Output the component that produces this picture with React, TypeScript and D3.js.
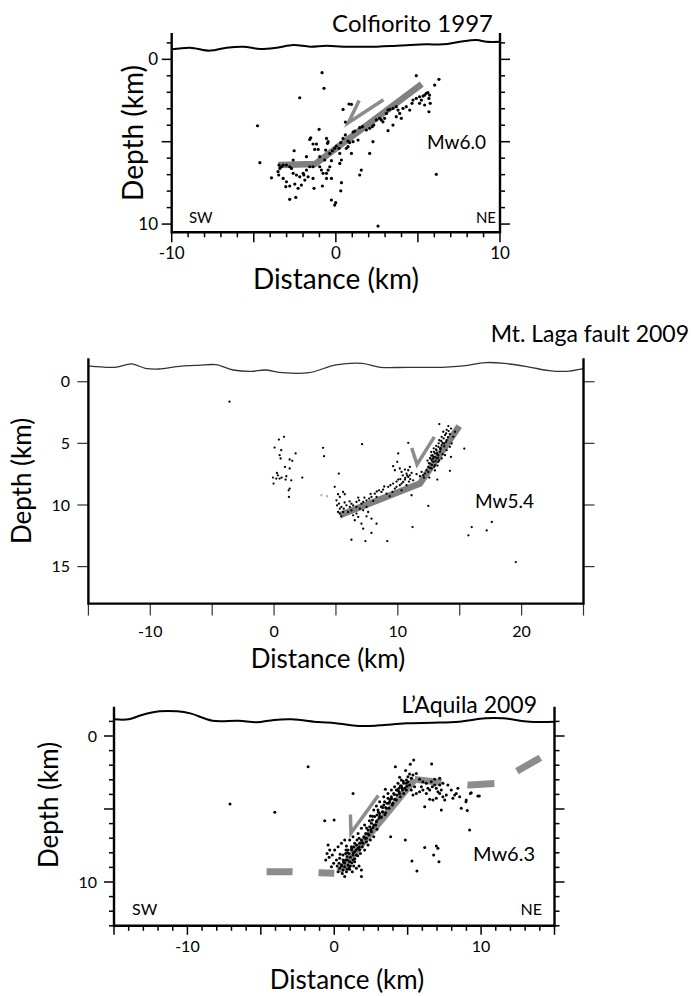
import React from "react";
import * as d3 from "d3";

type Pt = [number, number];

// ---------- Colfiorito 1997 ----------
const colfTitle = "Colfiorito 1997";
const colfMagnitude = "Mw6.0";
const colfDepthLabels = [0, 10];
const colfDistLabels = [-10, 0, 10];
const colfTopography: Pt[] = [
  [-10, -0.61], [-8.88, -0.71], [-7.66, -0.53], [-6.65, -0.71], [-5.63, -0.77], [-4.62, -0.63],
  [-3.6, -0.71], [-2.59, -0.87], [-1.57, -0.77], [-0.56, -0.83], [0.46, -0.77], [2.49, -0.77],
  [3.5, -0.81], [4.52, -0.87], [5.53, -0.91], [6.55, -0.91], [7.56, -1.07], [8.58, -1.17],
  [9.19, -1.07], [10, -1.07],
];
const colfFault: Pt[] = [[-3.5, 6.42], [-1.27, 6.36], [5.23, 1.5]];
const colfSlipArrow: Pt[] = [[1.42, 2.5], [0.76, 3.85], [2.9, 2.45]];
const colfQuakes: Pt[] = [
  [-0.84, 0.81], [-0.72, 1.76], [-2.2, 2.33], [4.9, 0.99], [6.02, 1.56], [6.28, 1.21], [-4.77, 4.03],
  [-4.63, 6.27], [-3.92, 7.19], [0.8, 2.71], [0.95, 2.73], [0.44, 3.04], [0.58, 3.81], [1.05, 4.41],
  [1.15, 4.35], [-1.02, 4.25], [-1.53, 4.76], [-1.59, 4.86], [-1.39, 5.14], [-1.29, 5.47], [-1.08, 5.47],
  [-1.18, 5.14], [-0.57, 4.8], [-0.47, 5.0], [-0.51, 5.1], [-0.62, 5.51], [-0.98, 5.91], [-0.68, 6.11],
  [-0.37, 5.71], [-0.21, 5.55], [-0.07, 5.4], [0.03, 5.26], [0.2, 5.4], [0.3, 5.06], [0.44, 4.8],
  [0.58, 4.59], [0.74, 4.96], [0.84, 5.06], [1.05, 5.0], [1.35, 4.9], [1.45, 4.15], [1.62, 4.09],
  [1.86, 4.29], [2.06, 4.19], [2.22, 4.09], [2.31, 3.99], [2.47, 3.68], [2.67, 3.58], [2.77, 3.68],
  [2.87, 3.79], [2.97, 3.58], [3.08, 3.28], [3.18, 3.08], [3.28, 3.04], [3.48, 2.98], [3.68, 2.87],
  [3.79, 3.08], [3.89, 3.28], [3.99, 3.58], [4.09, 2.98], [4.29, 2.87], [4.5, 3.08], [4.64, 2.67],
  [4.7, 2.47], [4.9, 2.37], [5.1, 2.27], [5.21, 2.47], [5.31, 2.23], [5.41, 2.17], [5.51, 2.06],
  [5.61, 2.02], [5.71, 2.17], [5.67, 2.37], [5.75, 2.67], [5.1, 2.67], [5.41, 2.77], [5.67, 3.18],
  [3.68, 3.48], [3.48, 3.99], [3.18, 4.33], [2.26, 5.0], [2.06, 5.71], [1.55, 6.72], [1.45, 7.02],
  [0.95, 5.71], [0.74, 5.3], [0.64, 5.4], [0.24, 5.71], [0.34, 6.11], [0.24, 6.32], [-0.27, 6.15],
  [-0.37, 6.52], [-0.47, 6.72], [-0.57, 6.92], [-0.78, 6.92], [-0.88, 6.72], [-0.98, 6.52], [-1.39, 6.52],
  [-1.59, 6.52], [-1.79, 6.72], [-1.99, 6.92], [-2.2, 7.13], [-2.4, 7.02], [-2.6, 6.92], [-2.7, 6.62],
  [-2.81, 6.52], [-3.01, 6.42], [-3.21, 6.42], [-3.31, 6.52], [-3.46, 6.42], [-3.41, 6.62], [-3.52, 6.82],
  [-3.48, 7.02], [-3.21, 7.23], [-3.01, 7.43], [-3.05, 7.73], [-2.81, 7.69], [-2.5, 7.57], [-2.3, 7.83],
  [-2.1, 7.63], [-1.89, 7.33], [-1.95, 7.02], [-1.69, 7.13], [-1.39, 7.23], [-1.33, 7.83], [-0.82, 7.69],
  [-0.57, 7.23], [-0.27, 7.23], [0.34, 7.49], [0.3, 7.98], [-0.01, 8.7], [-0.07, 8.85], [-2.81, 8.5],
  [-2.44, 8.38], [-2.54, 5.55], [-2.6, 6.11], [-1.79, 5.91], [2.57, 10.12], [6.12, 6.98], [-0.27, 8.54],
];

// ---------- Mt. Laga fault 2009 ----------
const lagaTitle = "Mt. Laga fault 2009";
const lagaMagnitude = "Mw5.4";
const lagaDepthLabels = [0, 5, 10, 15];
const lagaDistLabels = [-10, 0, 10, 20];
const lagaTopography: Pt[] = [
  [-15, -1.28], [-12.9, -1.17], [-11.5, -1.44], [-10.4, -1.09], [-9.3, -1.03], [-7.9, -1.22], [-6.1, -1.33],
  [-4.7, -1.38], [-3.3, -0.95], [-1.8, -0.84], [-0.75, -0.95], [0.7, -0.73], [2.8, -0.73], [5.0, -1.36],
  [7.1, -1.49], [8.6, -1.17], [10.7, -1.17], [13.6, -1.17], [15.3, -1.28], [17.1, -1.55], [18.6, -1.49],
  [20.7, -1.17], [22.2, -0.9], [23.6, -0.84], [25, -1.06],
];
const lagaFault: Pt[] = [[5.3, 10.84], [11.78, 8.26], [14.96, 3.6]];
const lagaSlipArrow: Pt[] = [[11.12, 5.38], [11.55, 6.7], [12.95, 4.47]];
const lagaQuakesFaint: Pt[] = [[3.82, 9.21], [4.28, 9.29]];
const lagaQuakes: Pt[] = [
  [-3.6, 1.62], [0.39, 4.69], [0.8, 4.47], [0.04, 5.34], [0.58, 5.55], [0.45, 5.96], [1.74, 5.82],
  [1.26, 6.31], [1.47, 6.42], [0.88, 6.91], [1.26, 7.04], [0.23, 7.4], [-0.09, 7.78], [0.18, 7.86],
  [0.45, 7.86], [0.61, 7.78], [0.99, 7.67], [0.93, 7.94], [1.39, 8.0], [-0.04, 8.26], [1.26, 8.67],
  [1.18, 8.81], [1.2, 9.35], [2.28, 7.78], [0.53, 6.23], [0.31, 7.59], [3.96, 5.36], [4.04, 6.04],
  [7.11, 5.07], [5.23, 7.45], [4.9, 8.53],
  [5.17, 9.13], [5.31, 9.35], [5.04, 9.62], [5.09, 10.03], [5.25, 9.89], [5.44, 10.16], [5.58, 8.94],
  [5.71, 9.13], [5.31, 10.7], [5.44, 10.92], [5.63, 10.3], [5.85, 10.03], [6.12, 10.16], [6.25, 9.89],
  [6.39, 10.03], [6.66, 9.75], [6.87, 9.62], [7.06, 9.89], [7.2, 9.75], [7.47, 9.62], [7.68, 9.48],
  [7.87, 9.35], [8.01, 9.67], [8.14, 9.08], [8.28, 9.35], [8.49, 8.81], [8.68, 8.94], [8.81, 8.75],
  [9.09, 9.08], [9.22, 8.53], [9.35, 9.29], [9.57, 8.94], [9.76, 8.67], [9.89, 8.53], [10.16, 8.4],
  [10.3, 8.26], [10.43, 8.13], [10.57, 7.94], [10.84, 7.72], [10.97, 7.59], [11.11, 7.4], [11.24, 8.0],
  [10.7, 8.4], [10.3, 8.81], [9.62, 8.26], [10.03, 7.94], [9.62, 6.85], [9.76, 7.18], [10.16, 7.04],
  [10.3, 7.32], [10.57, 7.13], [10.7, 7.45], [10.84, 7.18], [10.97, 6.91], [10.03, 5.82], [9.95, 6.5],
  [10.84, 4.96], [11.11, 9.21], [6.66, 10.7], [6.8, 10.97], [6.52, 11.24], [6.39, 10.84], [6.93, 10.3],
  [7.2, 10.43], [7.47, 10.16], [7.6, 10.57], [7.06, 11.52], [7.2, 11.92], [7.47, 10.92], [7.87, 11.11],
  [8.28, 11.52], [7.87, 12.27], [6.25, 12.82], [7.38, 12.93], [9.14, 12.93], [11.19, 11.79], [12.46, 10.08],
  [14.21, 7.23], [14.29, 6.1], [15.37, 5.42], [15.7, 12.46], [15.97, 11.79], [17.18, 12.06], [17.59, 11.38],
  [19.53, 14.63], [5.98, 10.57], [6.25, 10.43], [6.66, 10.16], [5.31, 10.3], [5.17, 10.57], [5.58, 10.57],
  [13.35, 3.44], [14.08, 3.6], [13.67, 4.06], [13.54, 4.47], [13.94, 4.74], [13.73, 5.01], [13.4, 5.42],
  [13.13, 5.55], [13.0, 5.82], [12.86, 6.1], [12.73, 6.37], [13.0, 6.1], [13.27, 5.96], [13.4, 5.69],
  [13.13, 6.23], [12.86, 6.5], [12.59, 6.64], [12.46, 6.91], [12.32, 7.18], [12.19, 7.45], [12.05, 7.59],
  [12.46, 7.32], [12.73, 7.04], [13.0, 6.77], [13.27, 6.5], [13.54, 6.23], [13.81, 5.96], [13.94, 5.55],
  [14.21, 5.28], [14.35, 5.01], [14.48, 4.47], [14.62, 4.06], [13.81, 4.33], [13.54, 5.15], [13.27, 5.28],
  [13.08, 5.5], [12.92, 5.69], [12.81, 5.96], [12.65, 6.23], [13.19, 5.88], [13.46, 5.5], [13.62, 5.88],
  [13.35, 6.37], [12.54, 7.78], [13.19, 7.94], [11.78, 7.67], [11.92, 7.32], [12.11, 7.78], [11.51, 7.5],
  [12.7, 6.0], [12.9, 5.4], [13.1, 5.2], [13.3, 5.0], [13.5, 4.8], [13.7, 4.6], [13.9, 4.2], [14.1, 4.0],
  [14.3, 3.8], [13.2, 6.8], [13.0, 7.2], [12.6, 7.0], [12.4, 6.4], [12.7, 5.7], [13.45, 5.35], [13.6, 4.95],
  [13.25, 6.15], [13.05, 6.45], [12.95, 6.9], [12.75, 6.75], [13.75, 5.25], [13.9, 4.9], [14.05, 4.5],
  [13.15, 5.75], [12.85, 6.25], [12.6, 6.2], [13.35, 4.75], [14.2, 4.25], [13.95, 3.9], [12.5, 6.6],
  [10.4, 7.6], [10.6, 7.8], [10.9, 8.1], [10.2, 7.9], [9.9, 8.1], [10.75, 7.6], [11.0, 7.9], [9.4, 8.4],
  [8.9, 8.5], [8.3, 8.9], [7.8, 9.1], [7.3, 9.4], [6.8, 9.4], [6.1, 9.7], [5.7, 9.8],
];

// ---------- L'Aquila 2009 ----------
const aquilaTitle = "L\u2019Aquila 2009";
const aquilaMagnitude = "Mw6.3";
const aquilaDepthLabels = [0, 10];
const aquilaDistLabels = [-10, 0, 10];
const aquilaTopography: Pt[] = [
  [-15, -1.14], [-14.0, -1.14], [-13.1, -1.44], [-11.9, -1.69], [-10.7, -1.69], [-9.8, -1.55], [-8.3, -1.05],
  [-6.5, -1.05], [-5.3, -0.94], [-4.1, -1.1], [-2.9, -1.14], [-1.1, -0.96], [0.1, -0.87], [1.9, -0.68],
  [3.1, -0.73], [4.9, -0.87], [6.7, -0.91], [8.5, -0.98], [10.3, -1.21], [11.5, -1.21], [13.3, -0.98],
  [15, -0.98],
];
const aquilaFault: Pt[] = [[0.33, 9.29], [5.48, 2.97]];
const aquilaFaultWest: Pt[] = [[-4.61, 9.29], [-2.85, 9.29], [-1.05, 9.36], [0.0, 9.4]];
const aquilaFaultEast: Pt[] = [[5.48, 2.97], [7.36, 3.2], [9.22, 3.36], [11.08, 3.24], [12.58, 2.33], [14.09, 1.46]];
const aquilaSlipArrow: Pt[] = [[1.1, 5.38], [1.14, 6.65], [3.0, 4.08]];
const aquilaQuakes: Pt[] = [
  [-1.78, 2.1], [-4.05, 5.23], [1.28, 3.93], [-0.65, 5.8], [-0.01, 5.75], [4.16, 2.1], [5.18, 1.94],
  [5.41, 1.64], [6.63, 1.92], [4.86, 2.37], [6.16, 4.84], [7.29, 5.07], [9.22, 6.44], [3.84, 6.9],
  [4.84, 7.12], [6.16, 7.63], [6.77, 8.15], [6.95, 7.53], [7.06, 7.69], [7.13, 8.61], [5.29, 8.56],
  [5.63, 9.25], [1.85, 9.63], [3.48, 3.65], [4.45, 2.83], [7.74, 3.36], [8.42, 3.58], [8.31, 3.93],
  [8.54, 4.16], [8.08, 4.27], [8.99, 4.38], [9.33, 3.88], [9.78, 4.11], [8.65, 4.95], [9.06, 5.11],
  [7.18, 2.9], [-7.1, 4.65], [9.27, 3.93], [9.88, 4.11], [8.97, 4.5],
  [5.36, 2.67], [5.59, 2.56], [5.81, 2.97], [6.04, 3.13], [6.27, 3.24], [6.38, 3.58], [6.5, 3.7],
  [6.68, 3.47], [6.84, 3.36], [6.95, 3.58], [7.06, 3.81], [7.18, 3.93], [7.29, 3.7], [7.4, 4.16],
  [6.95, 4.27], [6.72, 4.38], [6.5, 4.34], [6.27, 3.93], [6.04, 3.7], [5.81, 3.81], [5.59, 3.93],
  [5.36, 4.04], [5.25, 3.7], [5.13, 3.36], [5.02, 3.13], [4.91, 3.24], [5.47, 3.47], [5.93, 3.47],
  [6.61, 3.13], [7.18, 3.36], [7.52, 4.38], [7.63, 4.04], [7.97, 3.7], [8.2, 4.04], [7.4, 3.24],
  [6.84, 2.97],
  [0.37, 9.06], [0.49, 8.84], [0.6, 9.18], [0.33, 8.72], [0.64, 8.61], [0.78, 8.49], [0.87, 8.26],
  [0.71, 8.95], [0.94, 8.84], [1.05, 8.61], [1.01, 8.04], [1.17, 7.81], [1.28, 8.15], [1.39, 7.92],
  [1.33, 7.58], [1.51, 7.47], [1.62, 7.69], [1.73, 7.35], [1.55, 7.12], [1.69, 7.01], [1.85, 7.12],
  [1.91, 7.58], [2.01, 6.9], [2.14, 6.67], [2.19, 7.24], [2.3, 6.44], [2.41, 6.21], [2.37, 6.78],
  [2.53, 5.98], [2.64, 6.26], [2.6, 5.75], [2.75, 5.52], [2.87, 5.87], [2.91, 5.41], [2.98, 5.07],
  [3.09, 5.3], [3.21, 4.84], [3.28, 5.18], [3.37, 4.73], [3.43, 4.5], [3.55, 4.95], [3.59, 4.61],
  [3.66, 4.27], [3.77, 4.5], [3.89, 4.16], [3.96, 4.73], [4.05, 3.93], [4.11, 4.34], [4.23, 3.7],
  [4.27, 4.04], [4.41, 3.58], [4.45, 3.93], [4.57, 3.43], [4.64, 3.7], [4.73, 3.24], [4.79, 3.58],
  [4.91, 3.01], [5.02, 2.79], [5.13, 2.6], [5.25, 2.9], [3.05, 5.64], [2.82, 6.1], [2.53, 6.55],
  [2.19, 7.01], [1.96, 7.35], [1.73, 7.81], [1.51, 8.15], [1.28, 8.49], [1.1, 8.9], [0.83, 9.29],
  [1.23, 9.29], [1.39, 8.61], [1.78, 8.04], [2.07, 7.81], [2.3, 7.47], [1.39, 7.35], [1.17, 7.58],
  [0.94, 7.81], [0.78, 8.04], [0.6, 8.15], [0.37, 8.38], [0.15, 8.49], [-0.04, 8.72], [-0.19, 8.95],
  [-0.31, 7.81], [-0.42, 7.47], [-0.13, 8.15], [-0.35, 8.31], [-0.49, 8.04], [-0.58, 8.49], [0.03, 7.81],
  [0.26, 7.58], [0.49, 7.35], [0.71, 7.12], [0.83, 7.53], [1.05, 7.12], [1.28, 6.9], [1.62, 6.67],
  [1.85, 6.32], [2.07, 6.1], [2.46, 5.48], [2.69, 5.07], [2.87, 4.79], [3.09, 4.5], [3.37, 4.16],
  [3.66, 3.93], [3.89, 3.7], [4.11, 3.47], [4.34, 3.24], [4.57, 3.01], [3.21, 5.57], [3.5, 5.25],
  [3.73, 4.95], [4.0, 4.61], [4.23, 4.38], [4.5, 4.16], [4.73, 3.93], [4.91, 3.7], [2.91, 6.39],
  [2.69, 6.9], [2.46, 7.12], [1.05, 9.13], [0.55, 9.41], [0.26, 9.29], [0.71, 9.63], [1.51, 9.06],
  [1.33, 8.9], [0.87, 9.13], [1.69, 8.9], [1.85, 9.18],
  [0.5, 8.9], [0.7, 8.7], [0.9, 8.5], [1.1, 8.3], [1.3, 8.0], [1.5, 7.8], [1.7, 7.6], [1.9, 7.3],
  [2.1, 7.0], [2.3, 6.7], [2.5, 6.4], [2.7, 6.1], [2.9, 5.8], [3.1, 5.5], [3.3, 5.2], [3.5, 4.9],
  [3.7, 4.6], [3.9, 4.3], [4.1, 4.0], [4.3, 3.7], [4.5, 3.4], [4.7, 3.1], [0.6, 8.5], [0.9, 8.0],
  [1.2, 7.7], [1.0, 9.0], [1.4, 8.4], [1.6, 8.2], [1.2, 8.7], [0.4, 8.1], [0.2, 8.9], [0.8, 7.8],
  [2.2, 6.3], [2.4, 5.8], [2.6, 5.5], [3.0, 5.2], [3.3, 4.9], [3.45, 5.4], [3.8, 4.35], [4.4, 3.8],
  [4.6, 3.55], [4.95, 3.45],
];

const FONT = "Lato, 'Open Sans', 'DejaVu Sans', sans-serif";

interface Fault { pts: Pt[]; width: number; color: string; dash?: string }
interface PanelCfg {
  xDomain: [number, number]; xRange: [number, number];
  yDomain: [number, number]; yRange: [number, number];
  topo: Pt[]; topoWidth: number; topoColor: string;
  faults: Fault[]; arrow: Pt[]; arrowWidth: number;
  quakes: Pt[]; faint?: Pt[]; r: number;
  frameWidth: number;
  yMinor: number[]; yMajor: number[]; yLabels: number[]; yMinorLen: number; yMajorLen: number;
  xMinor: number[]; xMajor: number[]; xLabels: number[]; xMinorLen: number; xMajorLen: number;
  tickWidth: number; tickColor: string;
  tickFont: number; xLabelY: number; yLabelRight: number;
  title: string; titleX: number; titleY: number; titleSize: number;
  depthX: number; depthY: number; depthSize: number;
  distX: number; distY: number; distSize: number;
  mw: string; mwX: number; mwY: number; mwSize: number;
  sw?: { x: number; neX: number; y: number; size: number };
}

function Panel({ c }: { c: PanelCfg }) {
  const x = d3.scaleLinear().domain(c.xDomain).range(c.xRange);
  const y = d3.scaleLinear().domain(c.yDomain).range(c.yRange);
  const line = d3.line<Pt>().x((d) => x(d[0])).y((d) => y(d[1]));
  const topo = d3.line<Pt>().x((d) => x(d[0])).y((d) => y(d[1])).curve(d3.curveCatmullRom.alpha(0.5));
  const [x0, x1] = c.xRange;
  const [yTop, yBot] = c.yRange;
  return (
    <g fontFamily={FONT}>
      <path d={topo(c.topo) || ""} fill="none" stroke={c.topoColor} strokeWidth={c.topoWidth} />
      {c.faults.map((f, i) => (
        <path key={i} d={line(f.pts) || ""} fill="none" stroke={f.color} strokeWidth={f.width}
          strokeDasharray={f.dash} strokeLinejoin="miter" strokeLinecap="butt" />
      ))}
      <path d={line(c.arrow) || ""} fill="none" stroke="#8c8c8c" strokeWidth={c.arrowWidth} strokeLinejoin="miter" />
      {(c.faint || []).map((d, i) => (
        <circle key={"f" + i} cx={x(d[0])} cy={y(d[1])} r={c.r} fill="#b0b0b0" />
      ))}
      {c.quakes.map((d, i) => (
        <circle key={i} cx={x(d[0])} cy={y(d[1])} r={c.r} fill="#000" />
      ))}
      <g stroke={c.tickColor} strokeWidth={c.tickWidth}>
        {c.yMinor.map((v) => {
          const len = c.yMajor.includes(v) ? c.yMajorLen : c.yMinorLen;
          return (
            <g key={"y" + v}>
              <line x1={x0} x2={x0 - len} y1={y(v)} y2={y(v)} />
              <line x1={x1} x2={x1 + len} y1={y(v)} y2={y(v)} />
            </g>
          );
        })}
        {c.xMinor.map((v) => {
          const len = c.xMajor.includes(v) ? c.xMajorLen : c.xMinorLen;
          return <line key={"x" + v} x1={x(v)} x2={x(v)} y1={yBot} y2={yBot + len} />;
        })}
      </g>
      <path d={`M${x0},${yTop}V${yBot}H${x1}V${yTop}`} fill="none" stroke="#000" strokeWidth={c.frameWidth}
        strokeLinejoin="miter" />
      {c.yLabels.map((v) => (
        <text key={"yl" + v} x={c.yLabelRight} y={y(v)} dy="0.36em" textAnchor="end" fontSize={c.tickFont}>{v}</text>
      ))}
      {c.xLabels.map((v) => (
        <text key={"xl" + v} x={x(v)} y={c.xLabelY} textAnchor="middle" fontSize={c.tickFont}>{v}</text>
      ))}
      <text x={c.titleX} y={c.titleY} textAnchor="end" fontSize={c.titleSize}>{c.title}</text>
      <text transform={`translate(${c.depthX},${c.depthY}) rotate(-90)`} textAnchor="middle" fontSize={c.depthSize}>Depth (km)</text>
      <text x={c.distX} y={c.distY} textAnchor="middle" fontSize={c.distSize}>Distance (km)</text>
      <text x={c.mwX} y={c.mwY} fontSize={c.mwSize}>{c.mw}</text>
      {c.sw && (
        <g fontSize={c.sw.size}>
          <text x={c.sw.x} y={c.sw.y}>SW</text>
          <text x={c.sw.neX} y={c.sw.y} textAnchor="end">NE</text>
        </g>
      )}
    </g>
  );
}

const GREY = "#808080";

const colfCfg: PanelCfg = {
  xDomain: [-10, 10], xRange: [171.7, 500], yDomain: [-1.6, 10.5], yRange: [33, 232.3],
  topo: colfTopography, topoWidth: 2, topoColor: "#000",
  faults: [{ pts: colfFault, width: 6.5, color: GREY }], arrow: colfSlipArrow, arrowWidth: 3.5,
  quakes: colfQuakes, r: 1.6, frameWidth: 2.4,
  yMinor: d3.range(-1, 11), yMajor: [0, 5, 10], yLabels: colfDepthLabels, yMinorLen: 5, yMajorLen: 10,
  xMinor: d3.range(-10, 11), xMajor: [-10, -5, 0, 5, 10], xLabels: colfDistLabels, xMinorLen: 5, xMajorLen: 10,
  tickWidth: 1.5, tickColor: "#000", tickFont: 17, xLabelY: 259, yLabelRight: 158,
  title: colfTitle, titleX: 493, titleY: 32, titleSize: 24,
  depthX: 143, depthY: 133, depthSize: 28,
  distX: 336, distY: 289, distSize: 28,
  mw: colfMagnitude, mwX: 427, mwY: 149, mwSize: 19,
  sw: { x: 189, neX: 496, y: 222.7, size: 15 },
};

const lagaCfg: PanelCfg = {
  xDomain: [-15, 25], xRange: [88.4, 583.5], yDomain: [-1.9, 18], yRange: [358.3, 603.6],
  topo: lagaTopography, topoWidth: 1.3, topoColor: "#333",
  faults: [{ pts: lagaFault, width: 6.5, color: GREY }], arrow: lagaSlipArrow, arrowWidth: 3.5,
  quakes: lagaQuakes, faint: lagaQuakesFaint, r: 1.15, frameWidth: 2.4,
  yMinor: [0, 5, 10, 15], yMajor: [0, 5, 10, 15], yLabels: lagaDepthLabels, yMinorLen: 11, yMajorLen: 11,
  xMinor: d3.range(-15, 26, 5), xMajor: d3.range(-15, 26, 5), xLabels: lagaDistLabels, xMinorLen: 12, xMajorLen: 12,
  tickWidth: 1.2, tickColor: "#333", tickFont: 16, xLabelY: 637, yLabelRight: 70,
  title: lagaTitle, titleX: 689, titleY: 342, titleSize: 23,
  depthX: 31, depthY: 481, depthSize: 26,
  distX: 328, distY: 668, distSize: 26,
  mw: lagaMagnitude, mwX: 475, mwY: 508, mwSize: 19,
};

const aquilaCfg: PanelCfg = {
  xDomain: [-15, 15], xRange: [114, 554.5], yDomain: [-2, 13], yRange: [706.8, 925.8],
  topo: aquilaTopography, topoWidth: 2, topoColor: "#000",
  faults: [
    { pts: aquilaFaultWest, width: 7, color: "#8c8c8c", dash: "26 26" },
    { pts: aquilaFaultEast, width: 7, color: "#8c8c8c", dash: "27 26" },
    { pts: aquilaFault, width: 7, color: "#8c8c8c" },
  ],
  arrow: aquilaSlipArrow, arrowWidth: 3.5,
  quakes: aquilaQuakes, r: 1.5, frameWidth: 2.4,
  yMinor: d3.range(-1, 14), yMajor: [0, 5, 10], yLabels: aquilaDepthLabels, yMinorLen: 5, yMajorLen: 10,
  xMinor: d3.range(-15, 16), xMajor: [-15, -10, -5, 0, 5, 10, 15], xLabels: aquilaDistLabels, xMinorLen: 5, xMajorLen: 9,
  tickWidth: 1.5, tickColor: "#000", tickFont: 16, xLabelY: 952, yLabelRight: 97,
  title: aquilaTitle, titleX: 537, titleY: 713, titleSize: 23,
  depthX: 58, depthY: 805, depthSize: 26,
  distX: 347, distY: 989, distSize: 26,
  mw: aquilaMagnitude, mwX: 473, mwY: 861, mwSize: 20,
  sw: { x: 132, neX: 542, y: 915, size: 16 },
};

export default function App() {
  return (
    <svg width={691} height={996} viewBox="0 0 691 996"
      style={{ position: "absolute", left: 0, top: 0, background: "#fff" }}>
      <rect width={691} height={996} fill="#fff" />
      <Panel c={colfCfg} />
      <Panel c={lagaCfg} />
      <Panel c={aquilaCfg} />
    </svg>
  );
}
